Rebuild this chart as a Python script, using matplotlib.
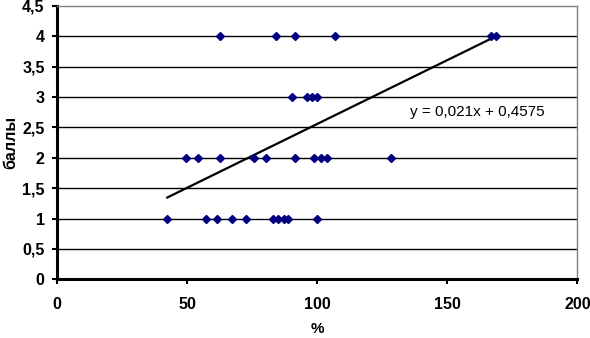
import matplotlib.pyplot as plt
import numpy as np

# проценты (ось X) и баллы (ось Y)
x_4 = [62.6, 84.1, 91.4, 106.8, 166.8, 168.6]
x_3 = [90.4, 96.0, 98.0, 100.0]
x_2 = [49.4, 54.2, 62.7, 75.8, 80.4, 91.5, 98.7, 101.4, 103.7, 128.5]
x_1 = [42.3, 57.1, 61.5, 67.3, 72.7, 83.1, 85.0, 87.0, 88.9, 100.0]

x = np.array(x_4 + x_3 + x_2 + x_1)
y = np.array([4] * len(x_4) + [3] * len(x_3) + [2] * len(x_2) + [1] * len(x_1))

# линия тренда из подписи
slope = 0.021
intercept = 0.4575

y_ticks = [0, 0.5, 1, 1.5, 2, 2.5, 3, 3.5, 4, 4.5]
y_labels = ['0', '0,5', '1', '1,5', '2', '2,5', '3', '3,5', '4', '4,5']
x_ticks = [0, 50, 100, 150, 200]

plt.rcParams['font.family'] = ['Liberation Sans', 'DejaVu Sans']

fig = plt.figure(figsize=(5.9, 3.38), dpi=100)
ax = fig.add_axes([0.0971, 0.1737, 0.8814, 0.8088])

for yt in y_ticks[1:-1]:
    ax.axhline(yt, color='black', linewidth=1, zorder=1)

tx = np.array([x.min(), x.max()])
ax.plot(tx, slope * tx + intercept, color='black', linewidth=1.6, zorder=2)
ax.plot(x, y, linestyle='none', marker='D', markersize=3.6,
        color='#000080', zorder=3)

ax.text(135.6, 2.75, 'y = 0,021x + 0,4575', fontsize=11, va='center', ha='left')

ax.set_xlim(0, 200)
ax.set_ylim(0, 4.5)
ax.set_xticks(x_ticks)
ax.set_xticklabels([str(t) for t in x_ticks], fontsize=11.5, fontweight='bold')
ax.set_yticks(y_ticks)
ax.set_yticklabels(y_labels, fontsize=11.5, fontweight='bold')
ax.tick_params(axis='both', direction='out', length=3.6, width=1.5, color='black')
ax.tick_params(axis='x', pad=9.5)
ax.tick_params(axis='y', pad=5.5)

ax.spines['left'].set_linewidth(2.2)
ax.spines['bottom'].set_linewidth(2.2)
ax.spines['left'].set_color('black')
ax.spines['bottom'].set_color('black')
ax.spines['top'].set_color('#808080')
ax.spines['right'].set_color('#808080')
ax.spines['top'].set_linewidth(1)
ax.spines['right'].set_linewidth(1)

ax.set_xlabel('%', fontsize=11, fontweight='bold', labelpad=7)
ax.set_ylabel('баллы', fontsize=11.5, fontweight='bold', labelpad=3)

fig.savefig('out.png', dpi=100)
